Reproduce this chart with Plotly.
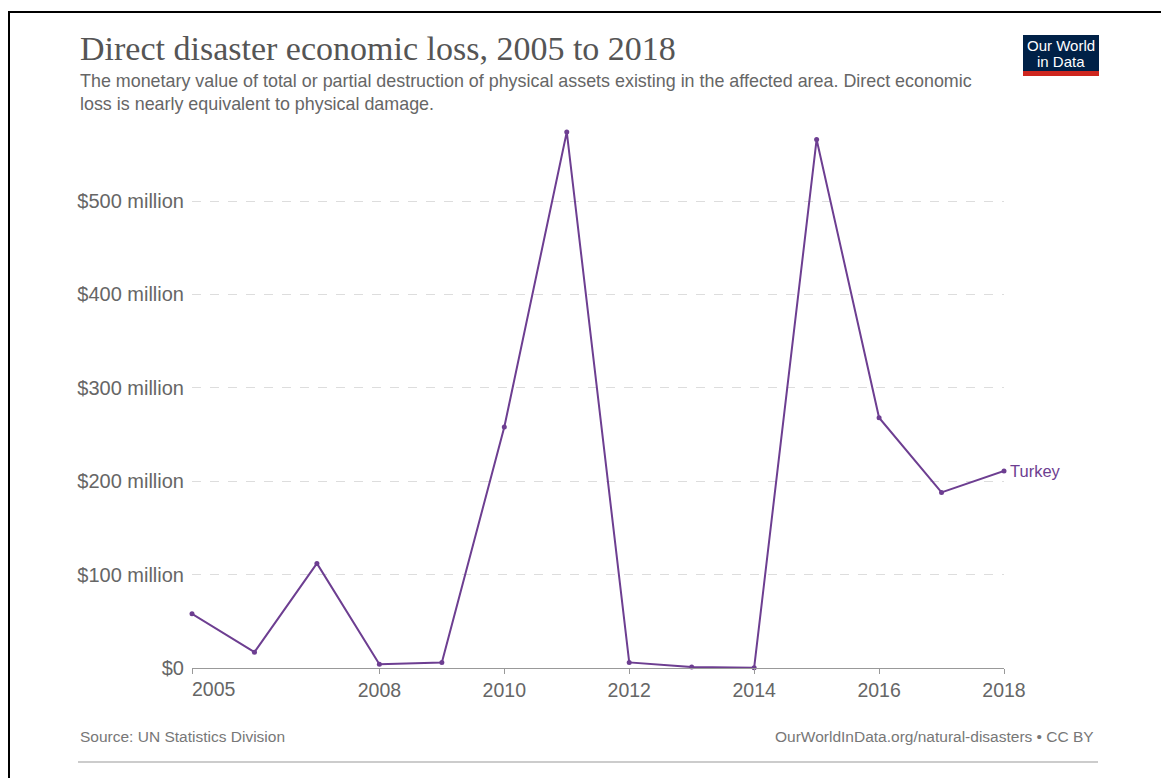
import plotly.graph_objects as go

years = [2005, 2006, 2007, 2008, 2009, 2010, 2011, 2012, 2013, 2014, 2015, 2016, 2017, 2018]
loss_usd = [58e6, 17e6, 112e6, 4e6, 6e6, 258e6, 574e6, 6e6, 1e6, 0.3e6, 566e6, 268e6, 188e6, 211e6]
country = "Turkey"
tick_years = [2005, 2008, 2010, 2012, 2014, 2016, 2018]
y_ticks = [0, 100e6, 200e6, 300e6, 400e6, 500e6]
y_labels = ["$0", "$100 million", "$200 million", "$300 million", "$400 million", "$500 million"]

# page has an 8px body margin; figure drawn at (8, 8)
W, H = 1161, 770
ML, MR, MT, MB = 184, 165, 124, 110
PW, PH = W - ML - MR, H - MT - MB

def px(x):
    # page pixel -> paper
    return (x - 8 - ML) / PW

def py(y):
    return (H - MB - (y - 8)) / PH

purple = "#6D3E91"
FONT = "Liberation Sans, Arial, sans-serif"

fig = go.Figure()
fig.add_trace(go.Scatter(
    x=years, y=loss_usd, mode="lines+markers",
    line=dict(color=purple, width=2),
    marker=dict(color=purple, size=5),
    showlegend=False, cliponaxis=False,
))
fig.add_annotation(x=years[-1], y=loss_usd[-1], text=country, showarrow=False,
                   xanchor="left", yanchor="middle", xshift=4,
                   font=dict(family=FONT, size=16.5, color=purple))

tick_text = ["" if t == years[0] else str(t) for t in tick_years]
fig.update_xaxes(range=[years[0], years[-1]], tickvals=tick_years, ticktext=tick_text,
                 showgrid=False, showline=True, linecolor="#999", linewidth=1,
                 ticks="outside", ticklen=5, tickcolor="#999",
                 tickfont=dict(family=FONT, size=19.5, color="#666"), zeroline=False)
fig.add_annotation(x=years[0], y=0, xref="x", yref="paper", text=str(years[0]), showarrow=False,
                   xanchor="left", yanchor="top", yshift=-8, xshift=-2,
                   font=dict(family=FONT, size=19.5, color="#666"))
fig.update_yaxes(range=[0, max(loss_usd)], tickvals=y_ticks, ticktext=y_labels,
                 showgrid=True, gridcolor="#ddd", griddash="dash", gridwidth=1,
                 zeroline=False, showline=False, ticks="", ticklabelstandoff=7,
                 tickfont=dict(family=FONT, size=20, color="#666"))

ann = []
ann.append(dict(x=px(78), y=py(48), xanchor="left", yanchor="middle",
                text="Direct disaster economic loss, 2005 to 2018",
                font=dict(family="Liberation Serif, DejaVu Serif, serif", size=34, color="#555")))
ann.append(dict(x=px(78), y=py(92), xanchor="left", yanchor="middle", align="left",
                text="The monetary value of total or partial destruction of physical assets existing in the affected area. Direct economic<br>loss is nearly equivalent to physical damage.",
                font=dict(family=FONT, size=17.9, color="#666")))
ann.append(dict(x=px(78), y=py(736), xanchor="left", yanchor="middle",
                text="Source: UN Statistics Division",
                font=dict(family=FONT, size=15.5, color="#777")))
ann.append(dict(x=px(1096), y=py(736), xanchor="right", yanchor="middle",
                text="OurWorldInData.org/natural-disasters • CC BY",
                font=dict(family=FONT, size=15.5, color="#777")))
ann.append(dict(x=px(1061), y=py(45), xanchor="center", yanchor="middle",
                text="Our World", font=dict(family=FONT, size=15, color="white")))
ann.append(dict(x=px(1061), y=py(62), xanchor="center", yanchor="middle",
                text="in Data", font=dict(family=FONT, size=15, color="white")))
for a in ann:
    fig.add_annotation(xref="paper", yref="paper", showarrow=False, **a)

shapes = [
    dict(type="rect", xref="paper", yref="paper", x0=px(1023), x1=px(1099), y0=py(35), y1=py(71),
         fillcolor="#002147", line=dict(width=0), layer="below"),
    dict(type="rect", xref="paper", yref="paper", x0=px(1023), x1=px(1099), y0=py(71), y1=py(76),
         fillcolor="#ce261e", line=dict(width=0), layer="below"),
    dict(type="line", xref="paper", yref="paper", x0=px(78), x1=px(1098), y0=py(762), y1=py(762),
         line=dict(color="#999", width=1)),
    dict(type="rect", xref="paper", yref="paper", x0=px(8), x1=px(1169), y0=py(11), y1=py(13),
         fillcolor="black", line=dict(width=0)),
    dict(type="rect", xref="paper", yref="paper", x0=px(8), x1=px(10), y0=py(11), y1=py(778),
         fillcolor="black", line=dict(width=0)),
]
fig.update_layout(shapes=shapes, width=W, height=H,
                  margin=dict(l=ML, r=MR, t=MT, b=MB, autoexpand=False),
                  plot_bgcolor="white", paper_bgcolor="white")

fig.write_html("out.html")
